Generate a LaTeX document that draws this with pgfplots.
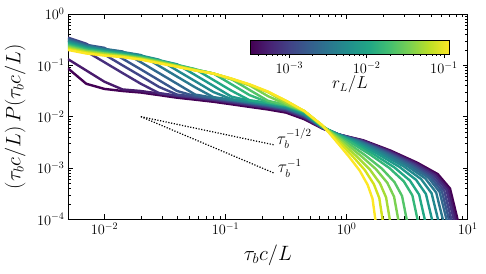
\documentclass[border=0pt]{standalone}
\usepackage{pgfplots}
\pgfplotsset{compat=1.18}
\definecolor{v0}{RGB}{68,1,84}
\definecolor{v1}{RGB}{72,26,108}
\definecolor{v2}{RGB}{71,47,125}
\definecolor{v3}{RGB}{65,68,135}
\definecolor{v4}{RGB}{57,86,140}
\definecolor{v5}{RGB}{49,104,142}
\definecolor{v6}{RGB}{42,120,142}
\definecolor{v7}{RGB}{35,136,142}
\definecolor{v8}{RGB}{31,152,139}
\definecolor{v9}{RGB}{34,168,132}
\definecolor{v10}{RGB}{53,183,121}
\definecolor{v11}{RGB}{84,197,104}
\definecolor{v12}{RGB}{122,209,81}
\definecolor{v13}{RGB}{165,219,54}
\definecolor{v14}{RGB}{210,226,27}
\definecolor{v15}{RGB}{253,231,37}
\begin{document}
\begin{tikzpicture}
\useasboundingbox (-68pt,-53.7pt) rectangle (418pt,219.3pt);
\begin{axis}[
  scale only axis, width=399.7pt, height=205.3pt,
  xmode=log, ymode=log,
  xmin=0.005, xmax=10, ymin=1e-4, ymax=1,
  xtick={0.01,0.1,1,10}, ytick={1e-4,1e-3,1e-2,1e-1,1},
  tick align=inside, major tick length=5pt, minor tick length=3pt,
  tick label style={font=\fontsize{14}{16}\selectfont},
  axis line style={line width=0.8pt},
  every tick/.style={black, line width=0.6pt},
  xlabel={$\tau_b c/L$},
  ylabel={$(\tau_b c/L)\,P(\tau_b c/L)$},
  xlabel style={font=\fontsize{20}{22}\selectfont, at={(axis description cs:0.5,-0.2017)}, anchor=base},
  ylabel style={font=\fontsize{20}{22}\selectfont, at={(axis description cs:-0.119,0.5)}, rotate=0, anchor=base},
  colormap={vir}{rgb255=(68,1,84) rgb255=(72,36,117) rgb255=(65,68,135) rgb255=(53,95,141) rgb255=(42,120,142) rgb255=(33,145,140) rgb255=(34,168,132) rgb255=(68,191,112) rgb255=(122,209,81) rgb255=(189,223,38) rgb255=(253,231,37)},
  colorbar horizontal,
  point meta min=-3.5, point meta max=-0.93,
  colorbar style={
    at={(parent axis.north west)}, anchor=north west,
    xshift=182.7pt, yshift=-17.7pt,
    scale only axis, width=198.6pt, height=14pt,
    xmode=normal, ymode=normal,
    xtick={-3,-2,-1}, xticklabels={$10^{-3}$,$10^{-2}$,$10^{-1}$},
    minor xtick={-3.398,-3.301,-3.222,-3.155,-3.097,-3.046,-2.699,-2.523,-2.398,-2.301,-2.222,-2.155,-2.097,-2.046,-1.699,-1.523,-1.398,-1.301,-1.222,-1.155,-1.097,-1.046},
    ytick=\empty,
    xtick pos=bottom, xticklabel pos=bottom,
    tick align=outside, major tick length=4pt, minor tick length=2pt,
    tick label style={font=\fontsize{14}{16}\selectfont},
    axis line style={line width=0.6pt},
    xlabel={$r_L/L$},
    xlabel style={font=\fontsize{16}{18}\selectfont, at={(axis description cs:0.5,-1.3)}, anchor=north, rotate=0},
  },
  every axis plot/.append style={line width=2.4pt, line join=round},
]
\addplot[v0] coordinates {(0.005,0.0871) (0.00708,0.0437) (0.01,0.0347) (0.0141,0.0316) (0.02,0.0295) (0.0282,0.0263) (0.0398,0.0234) (0.0562,0.0214) (0.0794,0.0195) (0.112,0.0174) (0.158,0.0155) (0.224,0.0138) (0.316,0.0120) (0.447,0.00891) (0.631,0.00589) (0.861,0.00447) (1.368,0.00347) (2.296,0.00219) (3.846,0.00126) (5.662,0.000759) (7.145,0.000398) (8.337,0.0000891)};
\addplot[v1] coordinates {(0.005,0.1318) (0.00708,0.0794) (0.01,0.0479) (0.0141,0.0339) (0.02,0.0316) (0.0282,0.0282) (0.0398,0.0251) (0.0562,0.0229) (0.0794,0.0209) (0.112,0.0186) (0.158,0.0166) (0.224,0.0148) (0.316,0.0129) (0.447,0.00955) (0.631,0.00589) (0.857,0.00450) (1.355,0.00343) (2.254,0.00215) (3.750,0.00123) (5.483,0.000735) (6.902,0.000386) (8.035,0.0000891)};
\addplot[v2] coordinates {(0.005,0.302) (0.00708,0.1862) (0.01,0.1148) (0.0141,0.0708) (0.02,0.0437) (0.0282,0.0288) (0.0398,0.0257) (0.0562,0.0234) (0.0794,0.0214) (0.112,0.0191) (0.158,0.0170) (0.224,0.0151) (0.316,0.0132) (0.447,0.00977) (0.631,0.00603) (0.853,0.00452) (1.340,0.00340) (2.213,0.00211) (3.656,0.00120) (5.333,0.000711) (6.683,0.000374) (7.762,0.0000891)};
\addplot[v3] coordinates {(0.005,0.3467) (0.00708,0.263) (0.01,0.1622) (0.0141,0.100) (0.02,0.0617) (0.0282,0.0380) (0.0398,0.0269) (0.0562,0.02455) (0.0794,0.0224) (0.112,0.01995) (0.158,0.0178) (0.224,0.01585) (0.316,0.0138) (0.447,0.01023) (0.631,0.00603) (0.847,0.00455) (1.321,0.00335) (2.163,0.00207) (3.540,0.001175) (5.129,0.000689) (6.397,0.000363) (7.413,0.0000891)};
\addplot[v4] coordinates {(0.005,0.331) (0.00708,0.251) (0.01,0.2188) (0.0141,0.1349) (0.02,0.0832) (0.0282,0.0513) (0.0398,0.0316) (0.0562,0.0251) (0.0794,0.0229) (0.112,0.0204) (0.158,0.0182) (0.224,0.0162) (0.316,0.0141) (0.447,0.01047) (0.631,0.00617) (0.843,0.00458) (1.303,0.00332) (2.113,0.00203) (3.428,0.001148) (4.932,0.000667) (6.124,0.000352) (7.079,0.0000891)};
\addplot[v5] coordinates {(0.005,0.316) (0.00708,0.2455) (0.01,0.2089) (0.0141,0.1862) (0.02,0.1148) (0.0282,0.0708) (0.0398,0.0437) (0.0562,0.0269) (0.0794,0.0234) (0.112,0.0209) (0.158,0.0186) (0.224,0.0166) (0.316,0.01445) (0.447,0.01072) (0.631,0.00617) (0.839,0.00460) (1.285,0.00329) (2.065,0.001995) (3.319,0.001122) (4.742,0.000646) (5.861,0.000341) (6.761,0.0000891)};
\addplot[v6] coordinates {(0.005,0.302) (0.00708,0.2344) (0.01,0.2042) (0.0141,0.182) (0.02,0.1585) (0.0282,0.0977) (0.0398,0.0603) (0.0562,0.0372) (0.0794,0.0240) (0.112,0.0214) (0.158,0.0191) (0.224,0.0170) (0.316,0.0148) (0.447,0.01096) (0.631,0.00617) (0.832,0.00463) (1.259,0.00325) (1.995,0.00196) (3.162,0.001096) (4.467,0.000625) (5.495,0.000331) (6.310,0.0000891)};
\addplot[v7] coordinates {(0.005,0.2884) (0.00708,0.2291) (0.01,0.1995) (0.0141,0.1778) (0.02,0.1549) (0.0282,0.1288) (0.0398,0.0794) (0.0562,0.0490) (0.0794,0.0302) (0.112,0.0219) (0.158,0.0195) (0.224,0.0174) (0.316,0.0151) (0.447,0.01122) (0.631,0.00631) (0.822,0.00467) (1.225,0.00321) (1.905,0.00192) (2.965,0.001072) (4.130,0.000605) (5.035,0.000321) (5.754,0.0000891)};
\addplot[v8] coordinates {(0.005,0.2754) (0.00708,0.2188) (0.01,0.1905) (0.0141,0.1738) (0.02,0.1514) (0.0282,0.1259) (0.0398,0.1047) (0.0562,0.0646) (0.0794,0.0398) (0.112,0.02455) (0.158,0.0204) (0.224,0.0182) (0.316,0.01585) (0.447,0.01175) (0.631,0.00631) (0.811,0.00469) (1.183,0.00318) (1.799,0.00189) (2.735,0.001047) (3.750,0.000586) (4.519,0.000311) (5.129,0.0000891)};
\addplot[v9] coordinates {(0.005,0.263) (0.00708,0.2113) (0.01,0.1862) (0.0141,0.1679) (0.02,0.1479) (0.0282,0.1245) (0.0398,0.1023) (0.0562,0.0841) (0.0794,0.0519) (0.112,0.0320) (0.158,0.0209) (0.224,0.0186) (0.316,0.0162) (0.447,0.0120) (0.631,0.00646) (0.798,0.00472) (1.135,0.00315) (1.679,0.00185) (2.483,0.001023) (3.334,0.000568) (3.972,0.000302) (4.467,0.0000891)};
\addplot[v10] coordinates {(0.005,0.251) (0.00708,0.2042) (0.01,0.182) (0.0141,0.1622) (0.02,0.1445) (0.0282,0.1230) (0.0398,0.100) (0.0562,0.0832) (0.0794,0.0692) (0.112,0.0427) (0.158,0.0263) (0.224,0.0191) (0.316,0.0166) (0.447,0.0123) (0.631,0.00646) (0.785,0.00475) (1.089,0.00311) (1.567,0.00182) (2.254,0.00100) (2.965,0.000550) (3.491,0.000293) (3.890,0.0000891)};
\addplot[v11] coordinates {(0.005,0.2399) (0.00708,0.195) (0.01,0.1738) (0.0141,0.1585) (0.02,0.1413) (0.0282,0.1202) (0.0398,0.100) (0.0562,0.0832) (0.0794,0.0692) (0.112,0.0537) (0.158,0.0331) (0.224,0.0204) (0.316,0.0170) (0.447,0.0126) (0.631,0.00646) (0.766,0.00478) (1.023,0.00308) (1.413,0.00179) (1.950,0.000977) (2.483,0.000532) (2.871,0.000284) (3.162,0.0000891)};
\addplot[v12] coordinates {(0.005,0.2291) (0.00708,0.1905) (0.01,0.1698) (0.0141,0.1549) (0.02,0.138) (0.0282,0.1175) (0.0398,0.0977) (0.0562,0.0813) (0.0794,0.0692) (0.112,0.0537) (0.158,0.0407) (0.224,0.0251) (0.316,0.0174) (0.447,0.0129) (0.631,0.00661) (0.752,0.00481) (0.975,0.00305) (1.303,0.00175) (1.742,0.000955) (2.168,0.000515) (2.466,0.000275) (2.692,0.0000891)};
\addplot[v13] coordinates {(0.005,0.2188) (0.00708,0.182) (0.01,0.166) (0.0141,0.1514) (0.02,0.1349) (0.0282,0.1148) (0.0398,0.0955) (0.0562,0.0813) (0.0794,0.0692) (0.112,0.0537) (0.158,0.0417) (0.224,0.0302) (0.316,0.0186) (0.447,0.0129) (0.631,0.00661) (0.736,0.00484) (0.929,0.00301) (1.202,0.00172) (1.556,0.000933) (1.888,0.000499) (2.118,0.000267) (2.291,0.0000891)};
\addplot[v14] coordinates {(0.005,0.2089) (0.00708,0.1778) (0.01,0.1585) (0.0141,0.1479) (0.02,0.1318) (0.0282,0.1122) (0.0398,0.0955) (0.0562,0.0794) (0.0794,0.0692) (0.112,0.0550) (0.158,0.0417) (0.224,0.0302) (0.316,0.0204) (0.447,0.0128) (0.631,0.00676) (0.724,0.00486) (0.891,0.00299) (1.122,0.00169) (1.413,0.000912) (1.679,0.000483) (1.862,0.000259) (1.995,0.0000891)};
\addplot[v15] coordinates {(0.005,0.1995) (0.00708,0.170) (0.01,0.1549) (0.0141,0.1445) (0.02,0.1288) (0.0282,0.1096) (0.0398,0.0933) (0.0562,0.0794) (0.0794,0.0692) (0.112,0.0550) (0.158,0.0427) (0.224,0.0309) (0.316,0.0204) (0.447,0.0129) (0.631,0.00676) (0.713,0.00490) (0.855,0.00295) (1.047,0.00166) (1.282,0.000891) (1.493,0.000468) (1.637,0.000251) (1.738,0.0000891)};
\addplot[black, line width=1.2pt, dash pattern=on 1.2pt off 1.6pt] coordinates {(0.02,0.01) (0.25,0.002828)};
\addplot[black, line width=1.2pt, dash pattern=on 1.2pt off 1.6pt] coordinates {(0.02,0.01) (0.25,0.0008)};
\node[anchor=base west, font=\fontsize{16}{18}\selectfont, xshift=3pt, inner sep=0pt] at (axis cs:0.25,0.002828) {$\tau_b^{-1/2}$};
\node[anchor=base west, font=\fontsize{16}{18}\selectfont, xshift=4pt, inner sep=0pt] at (axis cs:0.25,0.0008) {$\tau_b^{-1}$};
\end{axis}
\end{tikzpicture}
\end{document}
